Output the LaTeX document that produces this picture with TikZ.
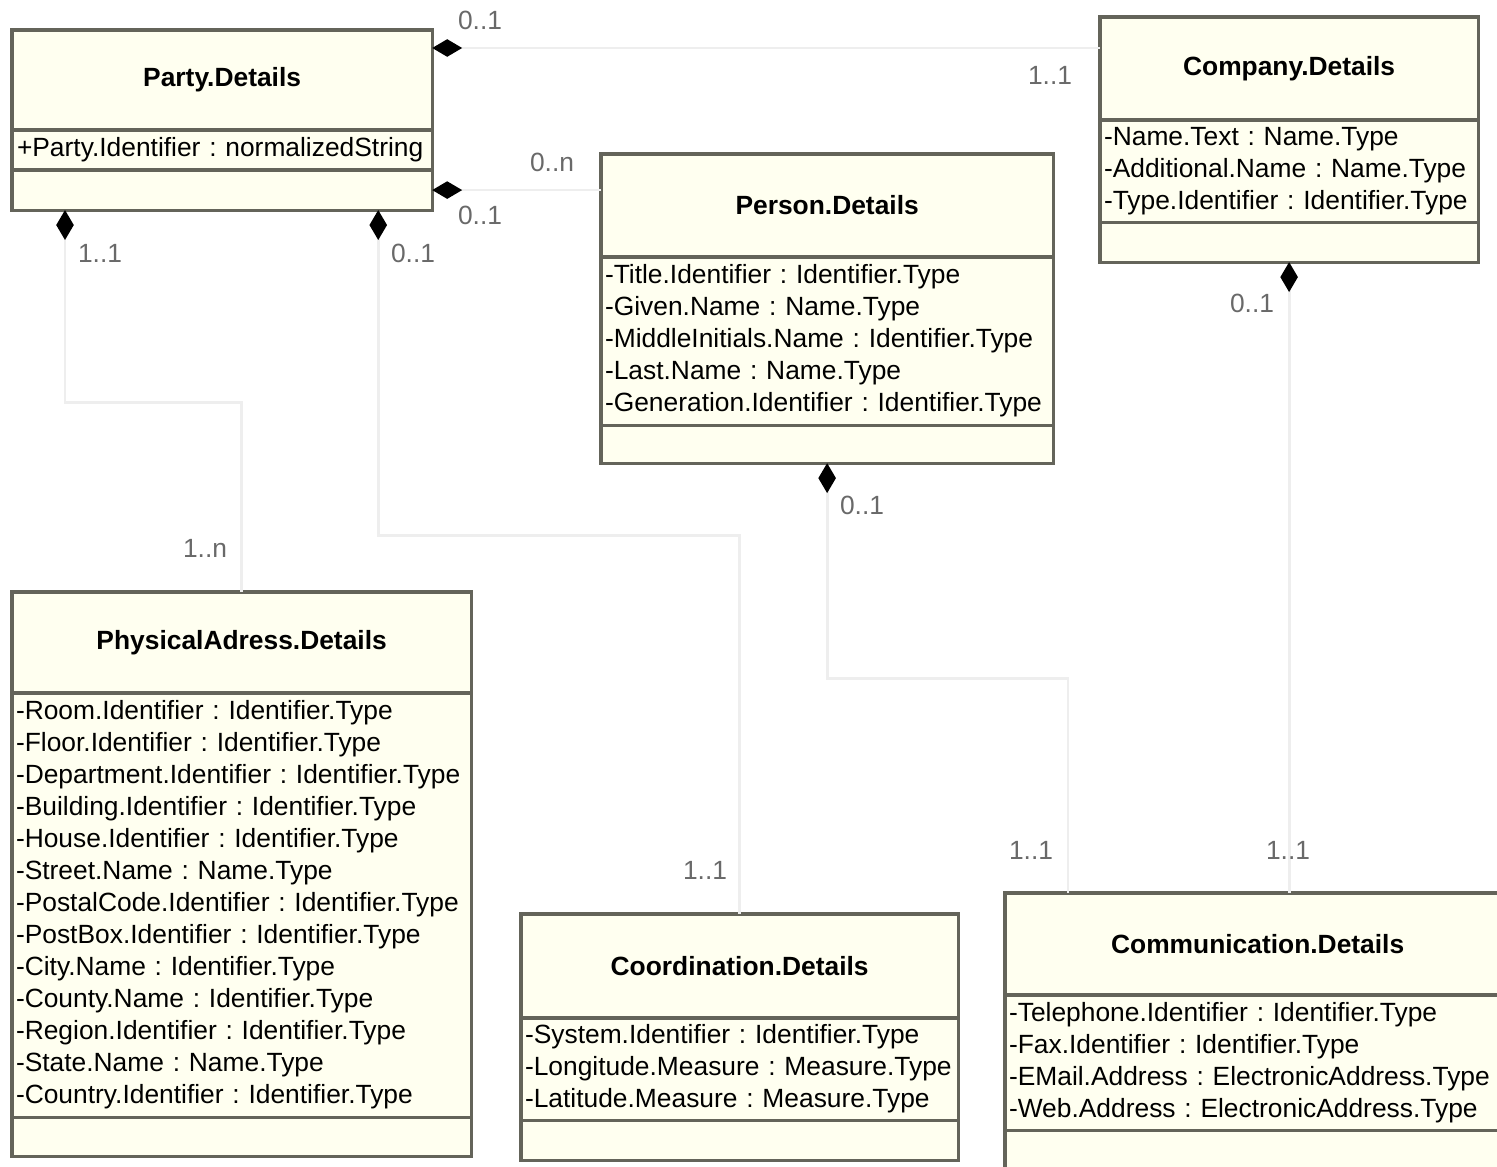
\documentclass[tikz,border=0pt]{standalone}
\usepackage{fontspec}
\setmainfont{Liberation Sans}
\usetikzlibrary{arrows.meta,positioning,calc}
\definecolor{umlfill}{RGB}{255,255,240}
\definecolor{umlline}{RGB}{100,100,90}
\definecolor{linkgray}{RGB}{238,238,238}
\definecolor{multgray}{RGB}{105,105,105}
\newcommand{\umlattrs}[1]{\begin{tabular}{@{}l@{}}#1\end{tabular}}

\begin{document}
\begin{tikzpicture}[
    x=0.01cm, y=-0.01cm,
    every node/.style={font=\fontsize{7.5}{9.1}\selectfont\frenchspacing},
    classname/.style={rectangle, draw=umlline, fill=umlfill, line width=0.9pt, outer sep=0pt, inner sep=0pt, minimum height=1.02cm, anchor=north west, font=\fontsize{7.5}{9.1}\selectfont\bfseries},
    classattr/.style={rectangle, draw=umlline, fill=umlfill, line width=0.9pt, outer sep=0pt, inner xsep=1pt, inner ysep=0pt, align=left},
    classops/.style={rectangle, draw=umlline, fill=umlfill, line width=0.9pt, outer sep=0pt, inner sep=0pt, minimum height=0.4cm},
    comp/.style={draw=linkgray, line width=0.8pt, arrows={Diamond[length=8.5pt,width=5pt,color=black,fill=black]-}},
    mult/.style={text=multgray}
]
\useasboundingbox (0,0) rectangle (1497,1167);

% Party
\node[classname, minimum width=4.2cm, minimum height=1.0cm] (partyname) at (12,30) {Party.Details};
\node[classattr, below=0pt of partyname, minimum width=4.2cm, text width=4.1cm, minimum height=0.4cm] (partyattr)
    {\umlattrs{+Party.Identifier : normalizedString}};
\node[classops, below=0pt of partyattr, minimum width=4.2cm] (partyops) {};

% Company
\node[classname, minimum width=3.78cm, minimum height=1.03cm] (companyname) at (1100,17) {Company.Details};
\node[classattr, below=0pt of companyname, minimum width=3.78cm, text width=3.7cm, minimum height=1.02cm] (companyattr)
    {\umlattrs{-Name.Text : Name.Type\\-Additional.Name : Name.Type\\-Type.Identifier : Identifier.Type}};
\node[classops, below=0pt of companyattr, minimum width=3.78cm] (companyops) {};

% Person
\node[classname, minimum width=4.52cm, minimum height=1.03cm] (personname) at (601,154) {Person.Details};
\node[classattr, below=0pt of personname, minimum width=4.52cm, text width=4.44cm, minimum height=1.68cm] (personattr)
    {\umlattrs{-Title.Identifier : Identifier.Type\\-Given.Name : Name.Type\\-MiddleInitials.Name : Identifier.Type\\-Last.Name : Name.Type\\-Generation.Identifier : Identifier.Type}};
\node[classops, below=0pt of personattr, minimum width=4.52cm, minimum height=0.38cm] (personops) {};

% PhysicalAdress
\node[classname, minimum width=4.59cm, minimum height=1.01cm] (physname) at (12,592) {PhysicalAdress.Details};
\node[classattr, below=0pt of physname, minimum width=4.59cm, text width=4.51cm, minimum height=4.24cm] (physattr)
    {\umlattrs{-Room.Identifier : Identifier.Type\\-Floor.Identifier : Identifier.Type\\-Department.Identifier : Identifier.Type\\-Building.Identifier : Identifier.Type\\-House.Identifier : Identifier.Type\\-Street.Name : Name.Type\\-PostalCode.Identifier : Identifier.Type\\-PostBox.Identifier : Identifier.Type\\-City.Name : Identifier.Type\\-County.Name : Identifier.Type\\-Region.Identifier : Identifier.Type\\-State.Name : Name.Type\\-Country.Identifier : Identifier.Type}};
\node[classops, below=0pt of physattr, minimum width=4.59cm, minimum height=0.39cm] (physops) {};

% Coordination
\node[classname, minimum width=4.37cm, minimum height=1.04cm] (coordname) at (521,914) {Coordination.Details};
\node[classattr, below=0pt of coordname, minimum width=4.37cm, text width=4.29cm, minimum height=1.02cm] (coordattr)
    {\umlattrs{-System.Identifier : Identifier.Type\\-Longitude.Measure : Measure.Type\\-Latitude.Measure : Measure.Type}};
\node[classops, below=0pt of coordattr, minimum width=4.37cm] (coordops) {};

% Communication
\node[classname, minimum width=5.05cm, minimum height=1.02cm] (commname) at (1005,893) {Communication.Details};
\node[classattr, below=0pt of commname, minimum width=5.05cm, text width=4.97cm, minimum height=1.35cm] (commattr)
    {\umlattrs{-Telephone.Identifier : Identifier.Type\\-Fax.Identifier : Identifier.Type\\-EMail.Address : ElectronicAddress.Type\\-Web.Address : ElectronicAddress.Type}};
\node[classops, below=0pt of commattr, minimum width=5.05cm, minimum height=0.5cm] (commops) {};

% Compositions
\draw[comp] ($(partyname.north east)+(0,18)$) -- ($(companyname.north west)+(0,31)$);
\draw[comp] (partyops.east) -- (partyops.east -| personname.west);
\draw[comp] ($(partyops.south west)+(53,0)$) -- ++(0,192) -| (physname.north);
\draw[comp] ($(partyops.south east)+(-54,0)$) -- ++(0,325) -| (coordname.north);
\draw[comp] (personops.south) -- ++(0,215) -| ($(commname.north west)+(63,0)$);
\draw[comp] (companyops.south) -- (companyops.south |- commname.north);

% Multiplicities
\node[mult] (mPartyCompany) at (480,20) {0..1};
\node[mult] (mCompanyParty) at (1050,75) {1..1};
\node[mult] (mPersonParty) at (552,162) {0..n};
\node[mult] (mPartyPerson) at (480,215) {0..1};
\node[mult] (mPartyPhys) at (100,253) {1..1};
\node[mult] (mPartyCoord) at (413,253) {0..1};
\node[mult] (mPhysParty) at (205,548) {1..n};
\node[mult] (mCompanyComm) at (1252,303) {0..1};
\node[mult] (mPersonComm) at (862,505) {0..1};
\node[mult] (mCoordParty) at (705,870) {1..1};
\node[mult] (mCommPerson) at (1031,850) {1..1};
\node[mult] (mCommCompany) at (1288,850) {1..1};

\end{tikzpicture}
\end{document}
